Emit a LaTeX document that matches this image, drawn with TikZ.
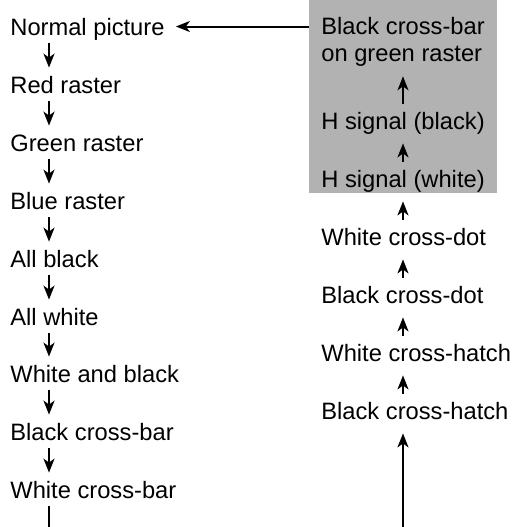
\documentclass[tikz,border=0pt]{standalone}
\usepackage{fontspec}
\setmainfont{Liberation Sans}
\usetikzlibrary{arrows.meta}
\tikzstyle{card}=[inner sep=0pt,anchor=base west]
\tikzstyle{flow}=[line width=1pt,-{Stealth[length=7pt,width=5.5pt,inset=2pt]}]
\tikzstyle{panel}=[fill=black!30,inner sep=0pt]
\newcommand{\testcard}[4]{\node[card,text height=12.5pt,text depth=#4] (#1) at (#2) {#3};}
\newcommand{\flowdown}[2]{\draw[flow] ([xshift=19.5pt]#1.south west) -- ([xshift=19.5pt]#2.north west);}
\newcommand{\flowup}[2]{\draw[flow] ([xshift=41pt]#1.north west) -- ([xshift=41pt]#2.south west);}

\begin{document}
\begin{tikzpicture}[x=0.5pt,y=-0.5pt,font=\fontsize{11.85}{13.5}\selectfont]
    \useasboundingbox (0,0) rectangle (514,527);
    % grey panel behind the last patterns
    \node[panel,anchor=north west,minimum width=94pt,minimum height=96.5pt] (grey) at (309,0) {};

    % left column, top to bottom
    \testcard{normal}{10,35}{Normal picture}{4pt}
    \testcard{red}{10,93}{Red raster}{4pt}
    \testcard{green}{10,151}{Green raster}{4pt}
    \testcard{blue}{10,209}{Blue raster}{4pt}
    \testcard{black}{10,267}{All black}{4pt}
    \testcard{white}{10,325}{All white}{4pt}
    \testcard{wandb}{10,382}{White and black}{4pt}
    \testcard{bbar}{10,440}{Black cross-bar}{4pt}
    \testcard{wbar}{10,498}{White cross-bar}{4pt}

    % right column, bottom to top
    \testcard{bhatch}{321,419}{Black cross-hatch}{7pt}
    \testcard{whatch}{321,361}{White cross-hatch}{7pt}
    \testcard{bdot}{321,303}{Black cross-dot}{7pt}
    \testcard{wdot}{321,245}{White cross-dot}{7pt}
    \testcard{hwhite}{321,187}{H signal (white)}{7pt}
    \testcard{hblack}{321,129}{H signal (black)}{7pt}
    \node[card,align=left,inner ysep=5pt] (bargreen) at (321,61) {Black cross-bar\\on green raster};

    \coordinate (lfoot) at (49,527);
    \coordinate (rfoot) at (403,527);

    \flowdown{normal}{red}
    \flowdown{red}{green}
    \flowdown{green}{blue}
    \flowdown{blue}{black}
    \flowdown{black}{white}
    \flowdown{white}{wandb}
    \flowdown{wandb}{bbar}
    \flowdown{bbar}{wbar}
    \draw[line width=1pt] ([xshift=19.5pt]wbar.south west) -- (lfoot);

    \draw[flow] (rfoot) -- ([xshift=41pt]bhatch.south west);
    \flowup{bhatch}{whatch}
    \flowup{whatch}{bdot}
    \flowup{bdot}{wdot}
    \flowup{wdot}{hwhite}
    \flowup{hwhite}{hblack}
    \flowup{hblack}{bargreen}
    \draw[flow,shorten >=5.5pt] (grey.west |- normal.east) -- (normal.east);
\end{tikzpicture}
\end{document}
